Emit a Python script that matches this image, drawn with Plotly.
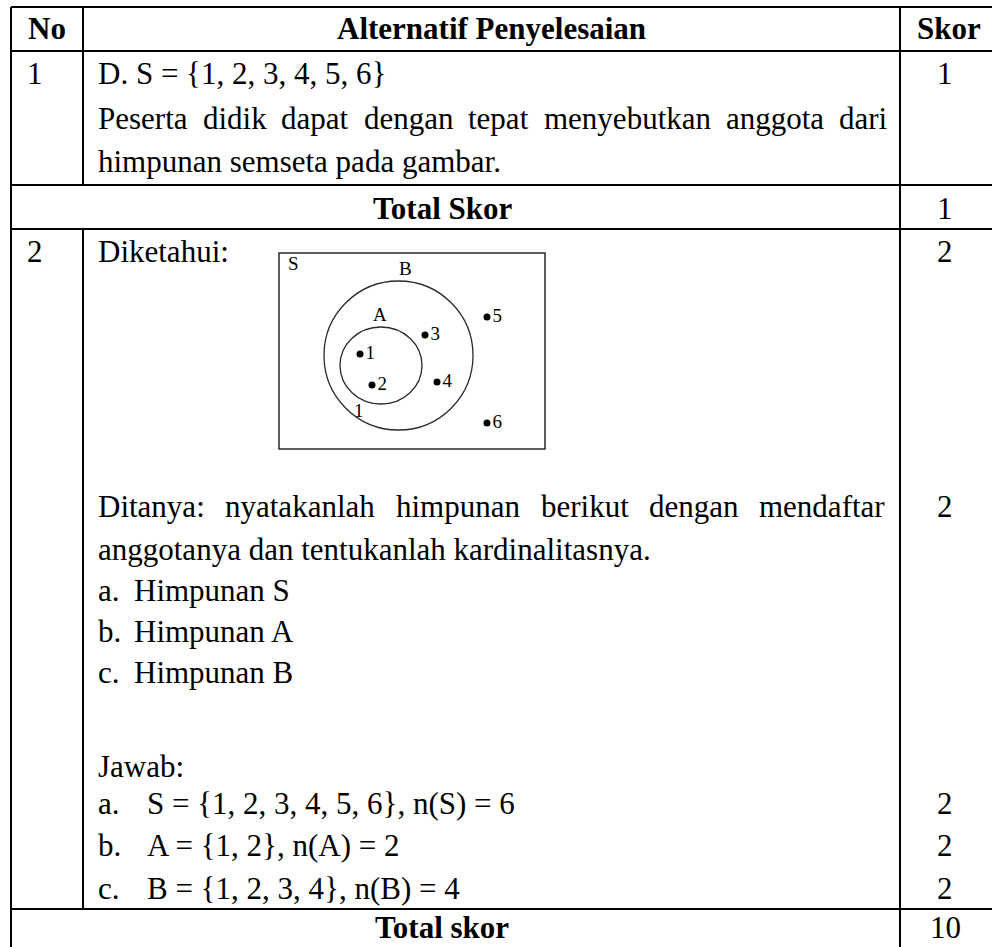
import plotly.graph_objects as go

# --- table content ---
header = ["No", "Alternatif Penyelesaian", "Skor"]
row_numbers = ["1", "2"]
row1_lines = ["D. S = {1, 2, 3, 4, 5, 6}",
              "Peserta didik dapat dengan tepat menyebutkan anggota dari",
              "himpunan semseta pada gambar."]
row1_skor = [1]
total_labels = ["Total Skor", "Total skor"]
total_values = [1, 10]
diketahui = "Diketahui:"
ditanya_lines = ["Ditanya: nyatakanlah himpunan berikut dengan mendaftar",
                 "anggotanya dan tentukanlah kardinalitasnya."]
ditanya_skor = [2, 2]
ditanya_items = [("a.", "Himpunan S"), ("b.", "Himpunan A"), ("c.", "Himpunan B")]
jawab = "Jawab:"
jawab_items = [("a.", "S = {1, 2, 3, 4, 5, 6}, n(S) = 6"),
               ("b.", "A = {1, 2}, n(A) = 2"),
               ("c.", "B = {1, 2, 3, 4}, n(B) = 4")]
jawab_skor = [2, 2, 2]

# --- venn diagram content ---
venn_elements = ["1", "2", "3", "4", "5", "6"]
venn_x = [360, 372, 425, 437, 487, 487]
venn_y = [354, 385, 335, 382, 317, 423]

W, H = 992, 947
FS = 31
FONT = "Liberation Serif"

# Times New Roman advance widths (1/1000 em), used to justify lines
TNR = {" ": 250, ",": 250, ".": 250, ":": 278, "=": 564, "{": 480, "}": 480,
       "A": 722, "B": 667, "D": 722, "P": 556, "S": 556, "H": 722,
       "a": 444, "b": 500, "c": 444, "d": 500, "e": 444, "f": 333, "g": 500,
       "h": 500, "i": 278, "j": 278, "k": 500, "l": 278, "m": 778, "n": 500,
       "o": 500, "p": 500, "r": 333, "s": 389, "t": 278, "u": 500, "y": 500}


def tw(s, size=FS):
    return sum(TNR.get(c, 500) for c in s) / 1000 * size


annotations = []


def txt(x, y, s, anchor="left", size=FS, bold=False):
    annotations.append(dict(x=x, y=y, text=f"<b>{s}</b>" if bold else s,
                            xref="x", yref="y", showarrow=False,
                            xanchor=anchor, yanchor="middle", borderpad=0,
                            font=dict(family=FONT, size=size, color="black")))


def justify(s, x0, x1, y):
    words = s.split()
    widths = [tw(w) for w in words]
    gap = (x1 - x0 - sum(widths)) / (len(words) - 1)
    x = x0
    for w, wd in zip(words, widths):
        txt(x, y, w)
        x += wd + gap


# column edges and row edges
XL, XN, XS, XR = 11, 83, 900, 993
Y_TOP, Y_H, Y_R1, Y_T1, Y_R2, Y_BOT = 7, 51, 185, 229, 909, 949
XT = 97          # text left edge
XSC = 945        # skor column centre
XTOT = 442       # total label centre

shapes = []


def line(x0, y0, x1, y1, w=2, c="black"):
    shapes.append(dict(type="line", xref="x", yref="y", x0=x0, y0=y0,
                       x1=x1, y1=y1, line=dict(color=c, width=w)))


for y in [Y_TOP, Y_H, Y_R1, Y_T1, Y_R2, Y_BOT]:
    line(XL, y, XR, y)
line(XL, Y_TOP, XL, Y_BOT)
line(XS, Y_TOP, XS, Y_BOT)
line(XR, Y_TOP, XR, Y_BOT)
line(XN, Y_TOP, XN, Y_R1)
line(XN, Y_T1, XN, Y_R2)

# header
txt((XL + XN) / 2, 28, header[0], "center", bold=True)
txt((XN + XS) / 2, 28, header[1], "center", bold=True)
txt(XSC + 4, 28, header[2], "center", bold=True)

# row 1
txt(26, 73, row_numbers[0])
txt(XT, 73, row1_lines[0])
justify(row1_lines[1], XT, 886, 118)
txt(XT, 161, row1_lines[2])
txt(XSC, 73, str(row1_skor[0]), "center")
txt(XTOT, 208, total_labels[0], "center", bold=True)
txt(XSC, 208, str(total_values[0]), "center")

# row 2
txt(26, 251, row_numbers[1])
txt(XT, 251, diketahui)
txt(XSC, 251, str(ditanya_skor[0]), "center")
justify(ditanya_lines[0], XT, 884, 506)
txt(XSC, 506, str(ditanya_skor[1]), "center")
txt(XT, 549, ditanya_lines[1])
for (lab, s), y in zip(ditanya_items, [590, 631, 672]):
    txt(XT, y, lab)
    txt(133, y, s)
txt(XT, 766, jawab)
for (lab, s), y, sk in zip(jawab_items, [803, 845, 888], jawab_skor):
    txt(XT, y, lab)
    txt(146, y, s)
    txt(XSC, y, str(sk), "center")
txt(XTOT, 927, total_labels[1], "center", bold=True)
txt(XSC, 927, str(total_values[1]), "center")

# venn diagram frame and circles
VC = "#2a2a2a"
shapes.append(dict(type="rect", xref="x", yref="y", x0=279, y0=253, x1=545, y1=449,
                   line=dict(color=VC, width=1.5)))
shapes.append(dict(type="circle", xref="x", yref="y", x0=324, y0=281, x1=473, y1=430,
                   line=dict(color=VC, width=1.3)))
shapes.append(dict(type="circle", xref="x", yref="y", x0=340, y0=327, x1=422, y1=404,
                   line=dict(color=VC, width=1.3)))
VF = 19
txt(293, 263, "S", "center", VF)
txt(405, 268, "B", "center", VF)
txt(380, 314, "A", "center", VF)
txt(359, 410, "1", "center", VF)

fig = go.Figure(go.Scatter(x=venn_x, y=venn_y, mode="markers+text",
                           text=venn_elements, textposition="middle right",
                           textfont=dict(family=FONT, size=VF, color="black"),
                           marker=dict(size=7, color="black"),
                           hoverinfo="skip", showlegend=False))

fig.update_layout(width=W, height=H, margin=dict(l=0, r=0, t=0, b=0),
                  paper_bgcolor="white", plot_bgcolor="white",
                  shapes=shapes, annotations=annotations)
fig.update_xaxes(range=[0, W], visible=False, fixedrange=True)
fig.update_yaxes(range=[H, 0], visible=False, fixedrange=True)
fig.write_html("out.html", config={"displayModeBar": False},
               post_script="document.body.style.margin='0';"
                           "document.body.style.overflow='hidden';")
